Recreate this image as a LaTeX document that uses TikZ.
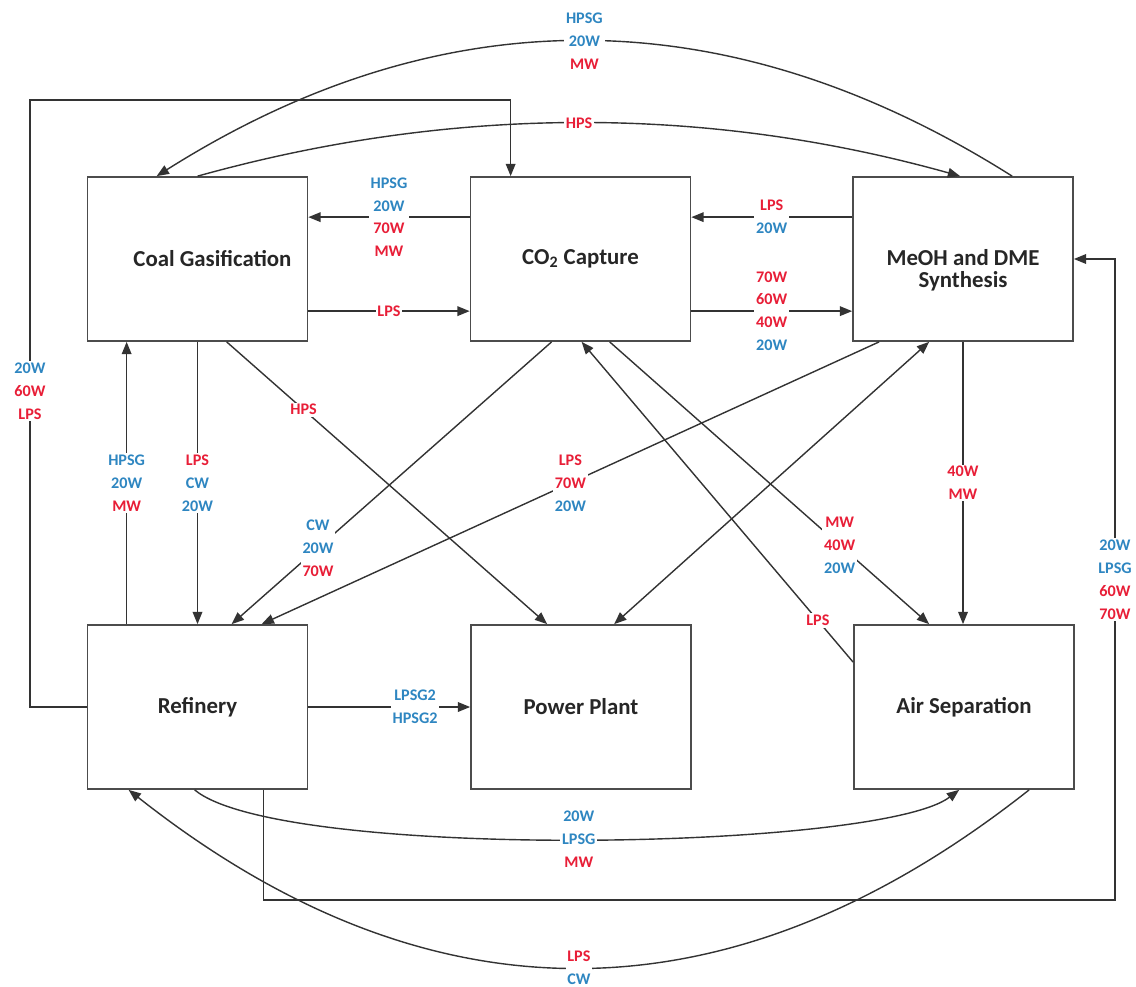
\documentclass[tikz,border=0pt]{standalone}
\usepackage{fontspec}
\setmainfont{Carlito}
\usepackage{tikz}
\usetikzlibrary{calc}
\usetikzlibrary{arrows.meta}
\definecolor{wblue}{RGB}{46,134,193}
\definecolor{wred}{RGB}{232,30,55}
\newcommand{\bluetxt}[1]{\textcolor{wblue}{#1}}
\newcommand{\redtxt}[1]{\textcolor{wred}{#1}}

\begin{document}
\begin{tikzpicture}[x=0.02cm, y=-0.02cm,
    unit/.style={draw=black!70, line width=1pt, minimum width=4.4cm, minimum height=3.28cm,
      align=center, text=black!85, font=\fontsize{13}{12.5}\selectfont\bfseries},
    flow/.style={draw=black!80, line width=0.8pt, -{Triangle[length=7pt,width=5.5pt]}},
    twoway/.style={flow, {Triangle[length=7pt,width=5.5pt]}-{Triangle[length=7pt,width=5.5pt]}},
    tag/.style={fill=white, inner sep=1pt, align=center, font=\fontsize{9.2}{13}\selectfont\bfseries}]
    \useasboundingbox (0,0) rectangle (1136,987);

    % units
    \node[unit] (coal) at (197.5,259) {\hspace*{17pt}Coal Gasification};
    \node[unit] (co2)  at (580.5,259) {CO\textsubscript{2} Capture};
    \node[unit] (meoh) at (963,259)   {\rule{0pt}{22pt}MeOH and DME\\Synthesis};
    \node[unit] (ref)  at (197.5,707) {Refinery};
    \node[unit] (pp)   at (581,707)   {Power Plant};
    \node[unit] (air)  at (964,707)   {Air Separation};

    % top row
    \draw[flow] ($(coal.north east)+(0,135)$) -- ($(co2.north west)+(0,135)$)
        node[tag, midway] {\redtxt{LPS}};
    \draw[flow] ($(co2.north west)+(0,41)$) -- ($(coal.north east)+(0,41)$)
        node[tag, midway] {\bluetxt{HPSG}\\\bluetxt{20W}\\\redtxt{70W}\\\redtxt{MW}};
    \draw[flow] ($(meoh.north west)+(0,41)$) -- ($(co2.north east)+(0,41)$)
        node[tag, midway] {\redtxt{LPS}\\\bluetxt{20W}};
    \draw[flow] ($(co2.north east)+(0,135)$) -- ($(meoh.north west)+(0,135)$)
        node[tag, midway] {\redtxt{70W}\\\redtxt{60W}\\\redtxt{40W}\\\bluetxt{20W}};

    % verticals
    \draw[flow] (coal.south) -- (ref.north)
        node[tag, midway] {\redtxt{LPS}\\\bluetxt{CW}\\\bluetxt{20W}};
    \draw[flow] ($(ref.north west)+(40,0)$) -- ($(coal.south west)+(40,0)$)
        node[tag, midway] {\bluetxt{HPSG}\\\bluetxt{20W}\\\redtxt{MW}};
    \draw[flow] (meoh.south) -- (meoh.south |- air.north)
        node[tag, midway] {\redtxt{40W}\\\redtxt{MW}};

    % diagonals
    \draw[flow] ($(coal.south west)+(140,0)$) -- ($(pp.north west)+(77,0)$)
        node[tag, pos=0.24] {\redtxt{HPS}};
    \draw[flow] ($(co2.south west)+(82,0)$) -- ($(ref.north west)+(145,0)$)
        node[tag, pos=0.73] {\bluetxt{CW}\\\bluetxt{20W}\\\redtxt{70W}};
    \draw[flow] ($(meoh.south west)+(27,0)$) -- ($(ref.north west)+(175,0)$)
        node[tag, midway] {\redtxt{LPS}\\\redtxt{70W}\\\bluetxt{20W}};
    \draw[twoway] ($(pp.north west)+(144,0)$) -- ($(meoh.south west)+(77,0)$);
    \draw[flow] ($(co2.south west)+(140,0)$) -- ($(air.north west)+(76,0)$)
        node[tag, pos=0.72] {\redtxt{MW}\\\redtxt{40W}\\\bluetxt{20W}};
    \draw[flow] ($(air.north west)+(0,38)$) -- ($(co2.south west)+(112,0)$)
        node[tag, pos=0.13] {\redtxt{LPS}};

    % bottom row
    \draw[flow] (ref.east) -- (pp.west)
        node[tag, pos=0.66] {\bluetxt{LPSG2}\\\bluetxt{HPSG2}};

    % loops round the outside
    \draw[flow] (ref.west) -| (30,100)
        node[tag, pos=0.76] {\bluetxt{20W}\\\redtxt{60W}\\\redtxt{LPS}}
        -| ($(co2.north west)+(41,0)$);
    \draw[flow] ($(ref.south west)+(177,0)$) |- (1115,900)
        |- node[tag, pos=0.25] {\bluetxt{20W}\\\bluetxt{LPSG}\\\redtxt{60W}\\\redtxt{70W}} (meoh.east);

    % arcs
    \draw[flow] ($(coal.north west)+(111,0)$) .. controls +(254.5,-71) and +(-254,-71) .. ($(meoh.north west)+(108,0)$)
        node[tag, midway] {\redtxt{HPS}};
    \draw[flow] ($(meoh.north west)+(160,0)$) .. controls +(-285,-180) and +(285,-180) .. ($(coal.north west)+(70,0)$)
        node[tag, midway] {\bluetxt{HPSG}\\\bluetxt{20W}\\\redtxt{MW}};
    \draw[flow] ($(ref.south west)+(108,0)$) .. controls +(85,71) and +(-80,61) .. ($(air.south west)+(106,0)$)
        node[tag, midway] {\bluetxt{20W}\\\bluetxt{LPSG}\\\redtxt{MW}};
    \draw[flow] ($(air.south west)+(176,0)$) .. controls +(-300,237) and +(300,237) .. ($(ref.south west)+(42,0)$)
        node[tag, midway] {\redtxt{LPS}\\\bluetxt{CW}};
\end{tikzpicture}
\end{document}
